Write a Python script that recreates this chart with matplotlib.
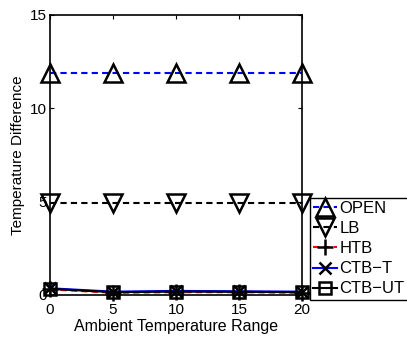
import matplotlib
matplotlib.use("Agg")
import matplotlib.pyplot as plt

x = [0, 5, 10, 15, 20]
open_v = [11.9, 11.9, 11.9, 11.9, 11.9]
lb_v = [4.95, 4.95, 4.95, 4.95, 4.95]
htb_v = [0.30, 0.12, 0.15, 0.15, 0.12]
ctbt_v = [0.36, 0.18, 0.22, 0.20, 0.18]
ctbut_v = [0.33, 0.15, 0.18, 0.17, 0.15]
xticks = [0, 5, 10, 15, 20]
yticks = [0, 5, 10, 15]

plt.rcParams['font.family'] = ['Liberation Sans', 'DejaVu Sans']
fig = plt.figure(figsize=(4.07, 3.37), dpi=100)
ax = fig.add_axes([50/407, 1-295/337, 252/407, 280/337])

kw = dict(clip_on=False, mfc='none', mec='black', mew=1.8)
ax.plot(x, open_v, '--', color='blue', lw=1.5, dashes=(3, 2), marker='^', ms=12.5, label='OPEN', **kw)
ax.plot(x, lb_v, '--', color='black', lw=1.5, dashes=(3, 2), marker='v', ms=12.5, label='LB', **kw)
ax.plot(x, htb_v, '--', color='red', lw=1.5, dashes=(3, 2), marker='+', ms=12, label='HTB', **kw)
ax.plot(x, ctbt_v, '-', color='blue', lw=1.5, marker='x', ms=9, label='CTB\u2212T', **kw)
ax.plot(x, ctbut_v, '-', color='black', lw=1.5, marker='s', ms=8.5, label='CTB\u2212UT', **kw)

ax.set_xlim(0, 20)
ax.set_ylim(0, 15)
ax.set_xticks(xticks)
ax.set_yticks(yticks)
ax.tick_params(direction='in', top=True, right=True, labelsize=11, length=3)
ax.tick_params(axis='x', pad=6)
ax.tick_params(axis='y', pad=2)
for s in ax.spines.values():
    s.set_linewidth(1.2)
ax.set_xlabel('Ambient Temperature Range', fontsize=11.5, labelpad=1)
ax.set_ylabel('Temperature Difference', fontsize=11, labelpad=4)

leg = ax.legend(loc='upper left', bbox_to_anchor=(310/407, 1-198/337), bbox_transform=fig.transFigure,
                fontsize=12, frameon=True, fancybox=False, edgecolor='black', framealpha=1,
                borderpad=0.2, labelspacing=0.3, handlelength=1.4, handletextpad=0.15, borderaxespad=0)
leg.get_frame().set_linewidth(1.0)

fig.savefig('out.png', dpi=100)
